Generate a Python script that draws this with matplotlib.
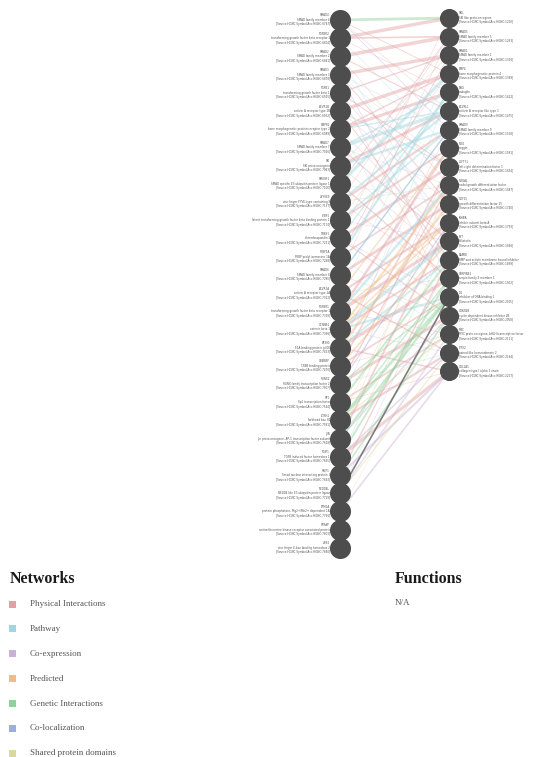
import matplotlib
matplotlib.use("Agg")
import matplotlib.pyplot as plt
from matplotlib.patches import Rectangle

# ---------------- data ----------------
left_genes = ["SMAD4", "TGFBR2", "SMAD2", "SMAD3", "TGFB1", "ACVR1B", "BMPR2", "SMAD7",
              "SKI", "SMURF1", "ZFYVE9", "LTBP1", "THBS1", "FKBP1A", "SMAD6", "ACVR2A",
              "TGFBR1", "CTNNB1", "EP300", "CREBBP", "RUNX2", "SP1", "FOXH1", "JUN",
              "TGIF1", "SNIP1", "NEDD4L", "PPM1A", "STRAP", "ZEB2"]
left_desc = ["SMAD family member 4", "transforming growth factor beta receptor 2",
             "SMAD family member 2", "SMAD family member 3", "transforming growth factor beta 1",
             "activin A receptor type 1B", "bone morphogenetic protein receptor type 2",
             "SMAD family member 7", "SKI proto-oncogene", "SMAD specific E3 ubiquitin protein ligase 1",
             "zinc finger FYVE-type containing 9", "latent transforming growth factor beta binding protein 1",
             "thrombospondin 1", "FKBP prolyl isomerase 1A", "SMAD family member 6",
             "activin A receptor type 2A", "transforming growth factor beta receptor 1",
             "catenin beta 1", "E1A binding protein p300", "CREB binding protein",
             "RUNX family transcription factor 2", "Sp1 transcription factor",
             "forkhead box H1", "Jun proto-oncogene, AP-1 transcription factor subunit",
             "TGFB induced factor homeobox 1", "Smad nuclear interacting protein 1",
             "NEDD4 like E3 ubiquitin protein ligase", "protein phosphatase, Mg2+/Mn2+ dependent 1A",
             "serine/threonine kinase receptor associated protein", "zinc finger E-box binding homeobox 2"]
right_genes = ["SKIL", "SMAD5", "SMAD1", "BMP4", "ENG", "ACVRL1", "SMAD9", "NOG",
               "LEFTY1", "NODAL", "GDF15", "INHBA", "FST", "BAMBI", "SERPINE1", "ID1",
               "CDKN2B", "MYC", "PITX2", "COL1A1"]
right_desc = ["SKI like proto-oncogene", "SMAD family member 5", "SMAD family member 1",
              "bone morphogenetic protein 4", "endoglin", "activin A receptor like type 1",
              "SMAD family member 9", "noggin", "left-right determination factor 1",
              "nodal growth differentiation factor", "growth differentiation factor 15",
              "inhibin subunit beta A", "follistatin", "BMP and activin membrane bound inhibitor",
              "serpin family E member 1", "inhibitor of DNA binding 1",
              "cyclin dependent kinase inhibitor 2B", "MYC proto-oncogene, bHLH transcription factor",
              "paired like homeodomain 2", "collagen type I alpha 1 chain"]

network_names = ["Physical Interactions", "Pathway", "Co-expression", "Predicted",
                 "Genetic Interactions", "Co-localization", "Shared protein domains"]
network_colors = ["#e3a0a3", "#9fd6df", "#c9b2d3", "#f1bb85", "#8fd197", "#9daede", "#d9d8a0"]

# edges: (left index, right index, network index, weight)
edges = [
    (1, 0, 0, 2.4), (1, 1, 0, 1.2), (2, 1, 0, 2.6), (3, 2, 0, 2.4), (4, 2, 0, 1.0),
    (5, 3, 0, 2.4), (6, 3, 0, 1.0), (6, 4, 0, 2.2), (8, 5, 0, 2.0), (10, 6, 0, 1.6),
    (11, 7, 0, 1.4), (12, 8, 0, 2.0), (13, 9, 0, 1.2), (14, 10, 0, 2.0), (15, 11, 0, 1.6),
    (16, 12, 0, 2.2), (17, 13, 0, 1.4), (18, 14, 0, 2.4), (19, 15, 0, 1.2), (20, 16, 0, 2.0),
    (21, 17, 0, 1.2), (22, 18, 0, 1.6), (24, 19, 0, 2.2), (2, 5, 0, 0.8), (4, 8, 0, 0.8),
    (7, 12, 0, 0.8), (9, 14, 0, 0.9), (12, 16, 0, 0.8), (15, 18, 0, 1.0), (18, 19, 0, 1.0),
    (3, 10, 0, 0.7), (5, 13, 0, 0.7), (19, 8, 0, 1.2), (20, 9, 0, 1.0), (0, 3, 0, 0.6),
    (9, 1, 0, 0.6), (13, 2, 0, 0.6), (23, 11, 0, 1.4), (25, 13, 0, 1.0), (16, 7, 0, 1.8),
    (6, 5, 1, 1.0), (7, 4, 1, 1.0), (8, 6, 1, 1.6), (9, 3, 1, 2.2), (10, 5, 1, 1.6),
    (11, 6, 1, 1.2), (16, 9, 1, 1.8), (17, 12, 1, 2.2), (18, 13, 1, 1.4), (13, 4, 1, 1.8),
    (5, 8, 1, 0.8), (7, 5, 1, 2.4), (14, 6, 1, 1.2), (17, 15, 1, 1.6), (12, 4, 1, 1.0),
    (24, 18, 2, 1.2), (25, 19, 2, 1.6), (26, 17, 2, 1.0), (23, 16, 2, 1.0), (0, 6, 2, 0.6),
    (3, 14, 2, 0.6), (27, 19, 2, 1.2),
    (17, 9, 3, 1.6), (16, 11, 3, 1.2), (18, 10, 3, 1.8), (15, 7, 3, 1.0), (19, 12, 3, 1.2),
    (17, 11, 3, 1.0),
    (0, 0, 4, 2.0), (22, 15, 4, 2.0), (23, 15, 4, 1.6), (24, 14, 4, 1.4), (25, 16, 4, 1.2),
    (21, 13, 4, 1.4), (20, 15, 4, 1.0), (22, 14, 4, 1.0),
    (20, 11, 5, 0.8), (14, 6, 5, 0.6),
    (22, 17, 6, 0.8), (10, 9, 6, 0.6), (26, 18, 6, 0.8),
]
# thin, very faint background edges
faint_edges = [
    (0, 5, 0), (1, 7, 1), (2, 9, 0), (3, 6, 1), (4, 11, 0), (5, 10, 2), (6, 12, 0),
    (7, 9, 1), (8, 13, 0), (9, 10, 1), (10, 14, 0), (11, 12, 2), (12, 15, 0), (13, 17, 1),
    (14, 16, 0), (15, 14, 1), (16, 17, 0), (17, 18, 2), (19, 17, 0), (20, 18, 1),
    (21, 19, 0), (2, 12, 1), (4, 15, 0), (6, 16, 1), (8, 2, 0), (11, 3, 0), (14, 1, 0),
    (19, 4, 1), (21, 8, 0), (23, 9, 3), (24, 12, 4), (26, 13, 2), (27, 16, 6), (1, 4, 0),
    (3, 8, 1), (10, 1, 0), (12, 0, 0), (15, 3, 1), (18, 6, 0), (22, 10, 3),
]
dark_edges = [(26, 15, 1.2)]

# ---------------- layout ----------------
W, H = 541, 757
left_x, right_x = 340, 449
left_y0, left_step = 20, 18.2
right_y0, right_step = 18, 18.6

fig = plt.figure(figsize=(W / 100, H / 100), dpi=100)
ax = fig.add_axes([0, 0, 1, 1])
ax.set_xlim(0, W)
ax.set_ylim(H, 0)
ax.axis("off")

def ly(i):
    return left_y0 + i * left_step

def ry(i):
    return right_y0 + i * right_step

for a, b, n in faint_edges:
    ax.plot([left_x, right_x], [ly(a), ry(b)], color=network_colors[n],
            lw=0.5, alpha=0.35, zorder=1)
for a, b, n, w in edges:
    ax.plot([left_x, right_x], [ly(a), ry(b)], color=network_colors[n],
            lw=w, alpha=0.45, solid_capstyle="butt", zorder=1)
for a, b, w in dark_edges:
    ax.plot([left_x, right_x], [ly(a), ry(b)], color="#707070", lw=w, alpha=0.9, zorder=1)

ax.scatter([left_x] * len(left_genes), [ly(i) for i in range(len(left_genes))],
           s=230, color="#4d4d4d", zorder=3, linewidths=0)
ax.scatter([right_x] * len(right_genes), [ry(i) for i in range(len(right_genes))],
           s=190, color="#4d4d4d", zorder=3, linewidths=0)

fs = 2.0
for i, g in enumerate(left_genes):
    y = ly(i)
    ax.text(330, y - 4.5, g, ha="right", va="center", fontsize=fs, color="#555555")
    ax.text(330, y, left_desc[i], ha="right", va="center", fontsize=fs, color="#555555")
    ax.text(330, y + 4.5, "[Source:HGNC Symbol;Acc:HGNC:%d]" % (6767 + i * 37),
            ha="right", va="center", fontsize=fs, color="#555555")
for i, g in enumerate(right_genes):
    y = ry(i)
    ax.text(459, y - 4.5, g, ha="left", va="center", fontsize=fs, color="#555555")
    ax.text(459, y, right_desc[i], ha="left", va="center", fontsize=fs, color="#555555")
    ax.text(459, y + 4.5, "[Source:HGNC Symbol;Acc:HGNC:%d]" % (1210 + i * 53),
            ha="left", va="center", fontsize=fs, color="#555555")

# ---------------- legend ----------------
serif = ["Liberation Serif", "DejaVu Serif"]
ax.text(10, 579, "Networks", fontsize=11.5, fontweight="bold", family=serif,
        va="center", ha="left", color="#1a1a1a")
ax.text(395, 579, "Functions", fontsize=11.5, fontweight="bold", family=serif,
        va="center", ha="left", color="#1a1a1a")
ax.text(395, 603, "N/A", fontsize=6.5, family=serif, va="center", ha="left", color="#555555")

for k, name in enumerate(network_names):
    y = 604 + k * 24.9
    ax.add_patch(Rectangle((9, y - 3.5), 7, 7, color=network_colors[k], lw=0))
    ax.text(30, y, name, fontsize=6.5, family=serif, va="center", ha="left", color="#555555")

fig.savefig("out.png", dpi=100)
